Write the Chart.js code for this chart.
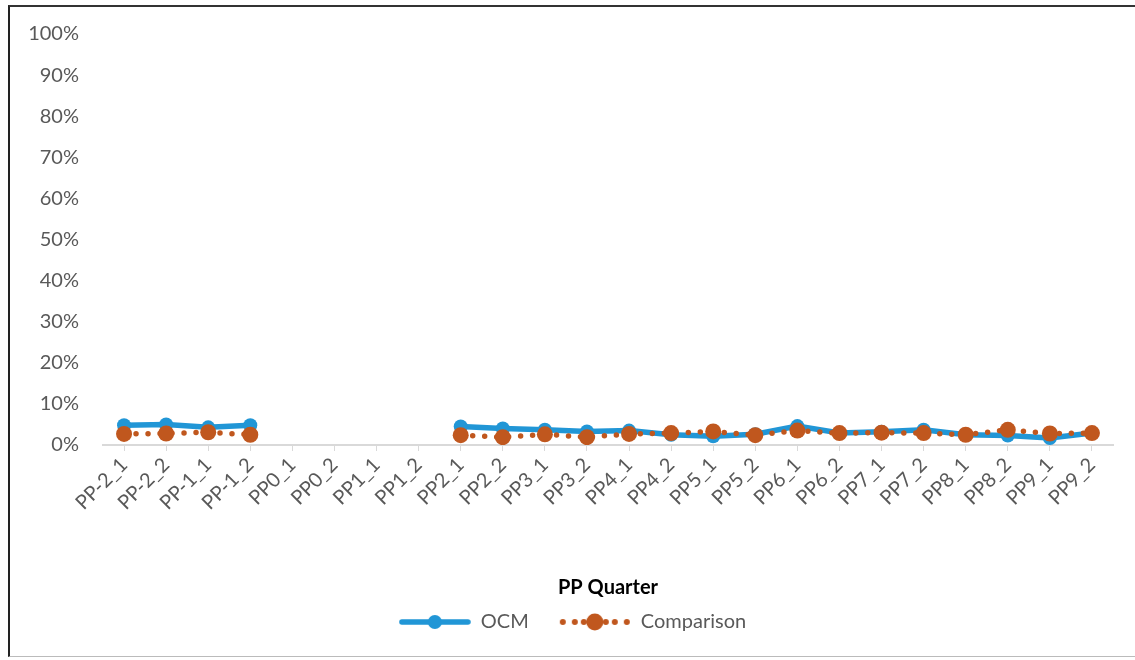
<!DOCTYPE html>
<html>
<head>
<meta charset="utf-8">
<script src="https://cdn.jsdelivr.net/npm/chart.js@4.4.1/dist/chart.umd.min.js"></script>
<style>
  html, body { margin: 0; padding: 0; background: #fff; }
  #wrap { position: relative; width: 1135px; height: 660px; overflow: hidden; }
  #frame {
    position: absolute; left: 8px; top: 5px; width: 1140px; height: 649px;
    border-left: 2px solid #222; border-top: 2px solid #333; border-bottom: 1px solid #bbb;
    pointer-events: none;
  }
  canvas { position: absolute; left: 0; top: 0; }
</style>
</head>
<body>
<div id="wrap">
  <canvas id="chart" width="1135" height="660"></canvas>
  <div id="frame"></div>
</div>
<script>
const quarters = ['PP-2_1', 'PP-2_2', 'PP-1_1', 'PP-1_2', 'PP0_1', 'PP0_2', 'PP1_1', 'PP1_2',
  'PP2_1', 'PP2_2', 'PP3_1', 'PP3_2', 'PP4_1', 'PP4_2', 'PP5_1', 'PP5_2', 'PP6_1', 'PP6_2',
  'PP7_1', 'PP7_2', 'PP8_1', 'PP8_2', 'PP9_1', 'PP9_2'];

// values in percent
const ocm = [4.8, 5.0, 4.3, 4.8, null, null, null, null,
  4.5, 4.0, 3.7, 3.3, 3.5, 2.5, 2.1, 2.6, 4.6, 2.9,
  3.2, 3.7, 2.5, 2.3, 1.7, 2.9];
const comparison = [2.7, 2.8, 3.1, 2.5, null, null, null, null,
  2.4, 1.9, 2.6, 1.9, 2.7, 2.9, 3.3, 2.4, 3.5, 2.9,
  3.0, 2.9, 2.5, 3.7, 2.8, 2.9];

const yTicks = [0, 10, 20, 30, 40, 50, 60, 70, 80, 90, 100];

const blue = '#2196d6';
const orange = '#c0571e';
const textColor = '#595959';
const fontFamily = 'Lato, "Open Sans", sans-serif';

// legend symbols: line + marker
function legendSymbol(kind) {
  const c = document.createElement('canvas');
  c.width = 72; c.height = 20;
  const g = c.getContext('2d');
  if (kind === 'ocm') {
    g.strokeStyle = blue; g.lineWidth = 5.5; g.lineCap = 'round';
    g.beginPath(); g.moveTo(3, 10); g.lineTo(69, 10); g.stroke();
    g.fillStyle = blue; g.beginPath(); g.arc(36, 10, 7, 0, Math.PI * 2); g.fill();
  } else {
    g.fillStyle = orange;
    [4, 16, 56, 68].forEach(x => { g.beginPath(); g.arc(x, 10, 3, 0, Math.PI * 2); g.fill(); });
    g.beginPath(); g.arc(36, 10, 8.5, 0, Math.PI * 2); g.fill();
    [25, 47].forEach(x => { g.beginPath(); g.arc(x, 10, 3, 0, Math.PI * 2); g.fill(); });
  }
  return c;
}
const symbols = [legendSymbol('ocm'), legendSymbol('cmp')];

// nudge the legend: centre on the canvas, and lift it a little
const legendShift = {
  id: 'legendShift',
  afterLayout(chart) {
    const lg = chart.legend;
    lg.left = 10;
    lg.right = chart.width;
    lg.top -= 18;
    lg.bottom -= 18;
  },
};

const ctx = document.getElementById('chart').getContext('2d');
const chart = new Chart(ctx, {
  type: 'line',
  data: {
    labels: quarters,
    datasets: [
      {
        label: 'OCM',
        data: ocm,
        borderColor: blue,
        backgroundColor: blue,
        borderWidth: 5.5,
        pointRadius: 7,
        pointBorderWidth: 0,
        tension: 0,
        spanGaps: false,
        order: 2,
      },
      {
        label: 'Comparison',
        data: comparison,
        borderColor: orange,
        backgroundColor: orange,
        borderWidth: 5.5,
        borderDash: [0, 12],
        borderCapStyle: 'round',
        pointRadius: 8,
        pointBorderWidth: 0,
        tension: 0,
        spanGaps: false,
        order: 1,
      },
    ],
  },
  plugins: [legendShift],
  options: {
    responsive: false,
    animation: false,
    layout: { padding: { left: 0, right: 22, top: 34, bottom: 0 } },
    scales: {
      x: {
        offset: true,
        grid: { drawOnChartArea: false, drawTicks: true, tickLength: 6, color: '#d9d9d9', offset: false },
        border: { color: '#d9d9d9', width: 2 },
        ticks: {
          autoSkip: false, maxRotation: 45, minRotation: 45, padding: 2,
          color: textColor, font: { family: fontFamily, size: 20 },
        },
        title: {
          display: true, text: 'PP Quarter', color: '#000',
          font: { family: fontFamily, size: 20, weight: 'bold' }, padding: { top: 46, bottom: 0 },
        },
        afterFit: (axis) => { axis.height = 155; },
      },
      y: {
        min: 0,
        max: 100,
        afterBuildTicks: (axis) => { axis.ticks = yTicks.map(v => ({ value: v })); },
        grid: { display: false },
        border: { display: false },
        ticks: {
          color: textColor, padding: 16,
          font: { family: fontFamily, size: 20 },
          callback: (v) => v + '%',
        },
        afterFit: (axis) => { axis.width = 103; },
      },
    },
    plugins: {
      legend: {
        position: 'bottom',
        labels: {
          usePointStyle: true,
          pointStyleWidth: 72,
          padding: 30,
          color: textColor,
          font: { family: fontFamily, size: 20 },
          sort: (a, b) => a.datasetIndex - b.datasetIndex,
          generateLabels: (chart) => Chart.defaults.plugins.legend.labels.generateLabels(chart)
            .map((item) => Object.assign(item, { pointStyle: symbols[item.datasetIndex] })),
        },
      },
      tooltip: { enabled: false },
    },
  },
});
</script>
</body>
</html>
